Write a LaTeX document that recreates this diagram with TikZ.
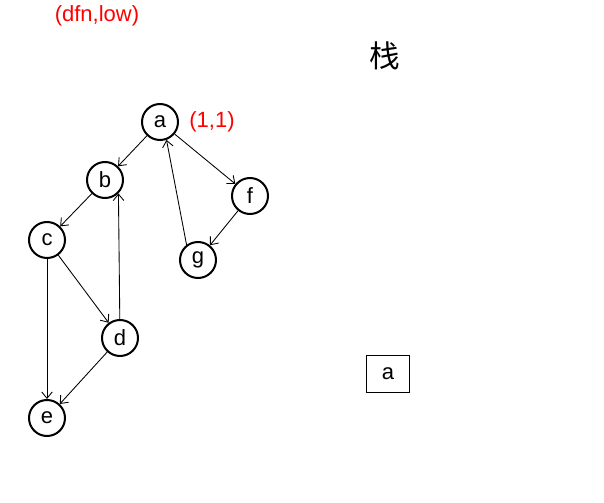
\documentclass[tikz,border=0pt]{standalone}
\usepackage{fontspec}
\setmainfont{Liberation Sans}
\newfontfamily\cjk{Noto Sans CJK SC}
\usepackage{xcolor}
\usepackage{tikz}
\usetikzlibrary{positioning, arrows.meta}

\begin{document}
\begin{tikzpicture}[
      x=0.75pt, y=-0.75pt,
      font=\fontsize{16.5}{18}\selectfont,
      vertex/.style={draw, circle, line width=1.5pt, minimum size=27pt, inner sep=0pt},
      stackbox/.style={draw, line width=0.8pt, minimum width=32pt, minimum height=28pt, inner sep=2pt},
      note/.style={text=red},
      arr/.style={-{Straight Barb[length=1.7mm, width=2.8mm]}, line width=0.65pt}
    ]
    \useasboundingbox (0,0) rectangle (604,503);
    %% labels
    \node[note] (hdr) at (97,16) {(dfn,low)};
    \node (stk) at (385,56) {\cjk\fontsize{23}{25}\selectfont 栈};
    %% graph
    \node[vertex] (a) at (160,122) {a};
    \node[vertex] (b) at (105,180) {b};
    \node[vertex] (c) at (47,240) {c};
    \node[vertex] (d) at (120,338) {d};
    \node[vertex] (e) at (47,418) {e};
    \node[vertex] (f) at (250,196) {f};
    \node[vertex] (g) at (198,260) {g};
    \node[note, right=1.5mm of a] (aval) {(1,1)};
    \draw[arr] (a) -- (b);
    \draw[arr] (a) -- (f);
    \draw[arr] (b) -- (c);
    \draw[arr] (c) -- (d);
    \draw[arr] (c) -- (e);
    \draw[arr] (d) -- (b.south east);
    \draw[arr] (d) -- (e);
    \draw[arr] (f) -- (g);
    \draw[arr] (g.127) -- (a.290);
    %% stack
    \node[stackbox] (s1) at (388,374) {a};
  \end{tikzpicture}
\end{document}
